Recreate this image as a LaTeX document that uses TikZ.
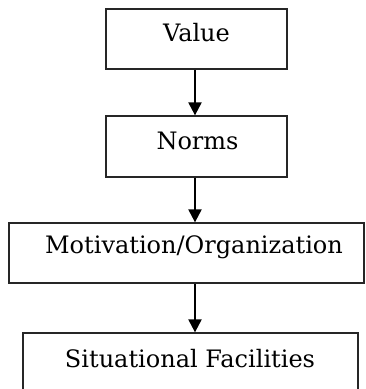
\documentclass[tikz,border=0pt]{standalone}
\usepackage{fontspec}
\setmainfont{DejaVu Serif}
\usetikzlibrary{arrows.meta}
\begin{document}
\begin{tikzpicture}[x=1pt,y=-1pt,
  box/.style={draw=black!85, line width=1.3pt, inner sep=0pt, minimum width=#1},
  lbl/.style={font=\fontsize{24}{28}\selectfont, anchor=base, inner sep=0pt},
  arr/.style={-{Triangle[length=13pt,width=13pt]}, line width=2.2pt}]
\useasboundingbox (0,0) rectangle (365,389);
\coordinate (ax) at (195,0);
\node[box=181pt, minimum height=60pt] (value) at (196.5,39) {};
\node[box=181pt, minimum height=61pt] (norms) at (196.5,146.5) {};
\node[box=355pt, minimum height=60pt] (motiv) at (186.5,253) {};
\node[box=335pt, minimum height=60pt] (situ) at (190.5,363) {};
\node[lbl] (tvalue) at (196.5,41) {Value};
\node[lbl] (tnorms) at (197.5,149) {Norms};
\node[lbl] (tmotiv) at (194,253) {Motivation/Organization};
\node[lbl] (tsitu) at (190,367) {Situational Facilities};
\draw[arr] (value.south -| ax) -- (norms.north -| ax);
\draw[arr] (norms.south -| ax) -- (motiv.north -| ax);
\draw[arr] (motiv.south -| ax) -- (situ.north -| ax);
\end{tikzpicture}
\end{document}
